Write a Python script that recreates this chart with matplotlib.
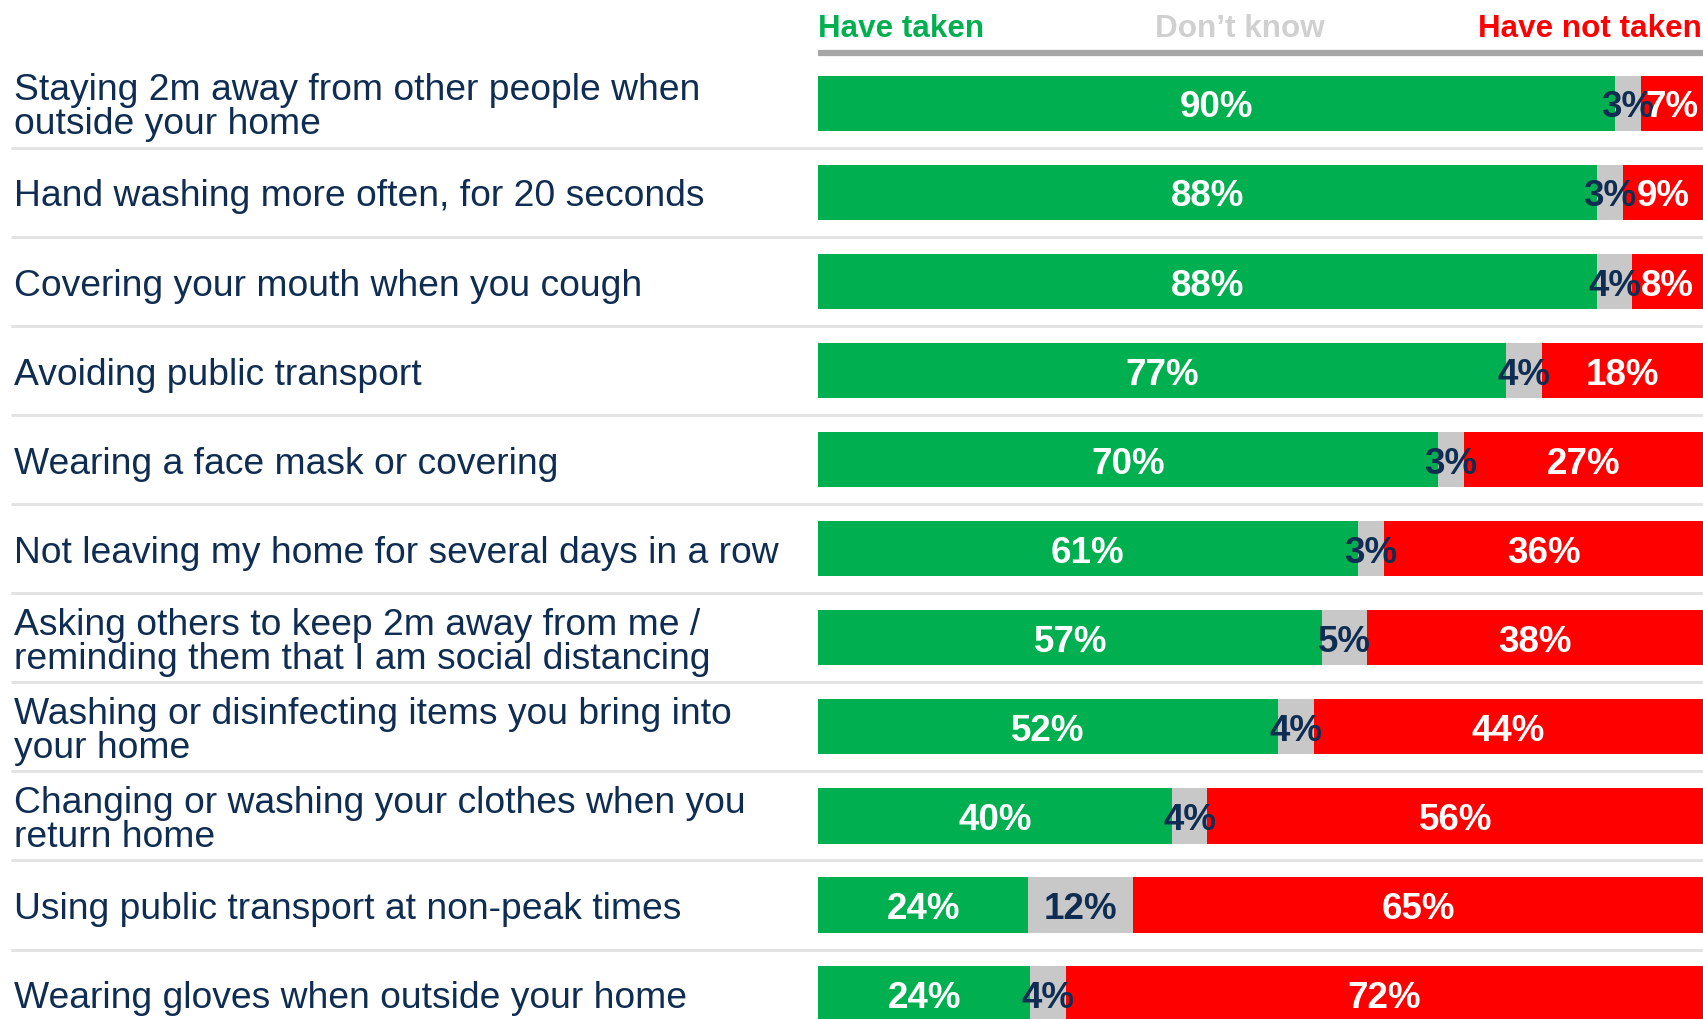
import matplotlib
matplotlib.use("Agg")
import matplotlib.pyplot as plt
import numpy as np

plt.rcParams['font.family'] = ['Liberation Sans', 'DejaVu Sans']

# data
categories = [
    "Staying 2m away from other people when\noutside your home",
    "Hand washing more often, for 20 seconds",
    "Covering your mouth when you cough",
    "Avoiding public transport",
    "Wearing a face mask or covering",
    "Not leaving my home for several days in a row",
    "Asking others to keep 2m away from me /\nreminding them that I am social distancing",
    "Washing or disinfecting items you bring into\nyour home",
    "Changing or washing your clothes when you\nreturn home",
    "Using public transport at non-peak times",
    "Wearing gloves when outside your home",
]
have_taken = [90, 88, 88, 77, 70, 61, 57, 52, 40, 24, 24]
dont_know = [3, 3, 4, 4, 3, 3, 5, 4, 4, 12, 4]
have_not_taken = [7, 9, 8, 18, 27, 36, 38, 44, 56, 65, 72]
series_names = ["Have taken", "Don\u2019t know", "Have not taken"]

GREEN = '#00B050'
GREY = '#C8C8C8'
RED = '#FF0000'
NAVY = '#0F2D52'

fig = plt.figure(figsize=(17.03, 10.20), dpi=100)
ax = fig.add_axes([0, 0, 1, 1])
ax.set_xlim(-92.43, 100)
ax.set_ylim(10.28, -1.171)
ax.axis('off')

y = np.arange(len(categories))
# rounded values do not always add to 100, so scale each row to 100%
tot = np.array(have_taken) + np.array(dont_know) + np.array(have_not_taken)
g = np.array(have_taken) / tot * 100
d = np.array(dont_know) / tot * 100
r = np.array(have_not_taken) / tot * 100
h = 0.62

ax.barh(y, g, height=h, color=GREEN, linewidth=0)
ax.barh(y, d, left=g, height=h, color=GREY, linewidth=0)
ax.barh(y, r, left=g + d, height=h, color=RED, linewidth=0)

for i in range(len(categories)):
    ax.text(-90.9, y[i] + 0.04, categories[i], ha='left', va='center', fontsize=26.8,
            color=NAVY, linespacing=0.97)
    ax.text(g[i] / 2, y[i] + 0.04, '%d%%' % have_taken[i], ha='center', va='center',
            fontsize=26.5, fontweight='bold', color='white')
    ax.text(g[i] + d[i] / 2, y[i] + 0.04, '%d%%' % dont_know[i], ha='center', va='center',
            fontsize=26.5, fontweight='bold', color=NAVY)
    ax.text(g[i] + d[i] + r[i] / 2, y[i] + 0.04, '%d%%' % have_not_taken[i], ha='center',
            va='center', fontsize=26.5, fontweight='bold', color='white')

# row separators
for i in range(len(categories) - 1):
    ax.plot([-91.2, 100], [i + 0.5, i + 0.5], color='#E3E3E3', lw=2.2,
            solid_capstyle='butt')

# header
ax.plot([0, 100], [-0.565, -0.565], color='#A6A6A6', lw=4.5, solid_capstyle='butt')
ax.text(0, -0.85, series_names[0], ha='left', va='center', fontsize=22.6,
        fontweight='bold', color=GREEN)
ax.text(47.7, -0.85, series_names[1], ha='center', va='center', fontsize=22.6,
        fontweight='bold', color='#D0D0D0')
ax.text(99.9, -0.85, series_names[2], ha='right', va='center', fontsize=22.6,
        fontweight='bold', color=RED)

fig.savefig('out.png', dpi=100)
